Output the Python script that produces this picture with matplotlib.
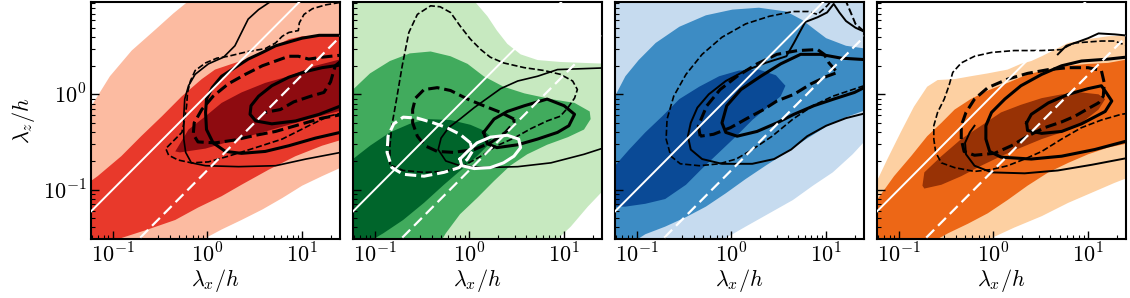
import matplotlib
matplotlib.use("Agg")
import matplotlib.pyplot as plt
import numpy as np

plt.rcParams["mathtext.fontset"] = "cm"
plt.rcParams["font.family"] = ["DejaVu Serif"]
plt.rcParams["axes.linewidth"] = 1.5

# all values are log10(lambda_x/h), log10(lambda_z/h)
XLIM = (-1.23, 1.40)
ZLIM = (-1.52, 0.97)
DASHED_RATIO = 0.16  # white dashed line lambda_z = 0.16 lambda_x
X_TICKS = [0.1, 1.0, 10.0]
X_TICK_LABELS = [r"$10^{-1}$", r"$10^{0}$", r"$10^{1}$"]
Z_TICKS = [0.1, 1.0]
Z_TICK_LABELS = [r"$10^{-1}$", r"$10^{0}$"]

# ---- panel 1 (red)
red_light = [(-1.30, -0.13), (-1.23, -0.13), (-1.03, 0.19), (-0.80, 0.46), (-0.55, 0.68), (-0.36, 0.85),
             (-0.20, 0.98), (-0.15, 1.07), (1.49, 1.07), (1.49, -0.75), (1.41, -0.77), (1.21, -0.86),
             (1.00, -0.96), (0.79, -1.09), (0.58, -1.21), (0.36, -1.32), (0.15, -1.42), (-0.02, -1.51),
             (-0.10, -1.56), (-1.30, -1.56)]
red_mid = [(-1.30, -0.96), (-1.23, -0.91), (-1.16, -0.86), (-0.91, -0.65), (-0.70, -0.44), (-0.48, -0.23),
           (-0.27, -0.02), (-0.06, 0.16), (0.08, 0.26), (0.29, 0.33), (0.51, 0.40), (0.72, 0.51), (0.86, 0.58),
           (1.00, 0.61), (1.49, 0.63), (1.49, -0.47), (1.41, -0.48), (1.21, -0.54), (0.93, -0.65), (0.65, -0.79),
           (0.36, -0.95), (0.15, -1.07), (-0.10, -1.19), (-0.34, -1.32), (-0.63, -1.42), (-0.91, -1.51),
           (-0.98, -1.56), (-1.30, -1.56)]
red_dark = [(-0.34, -0.60), (-0.20, -0.37), (-0.02, -0.23), (0.15, -0.09), (0.36, 0.02), (0.61, 0.12),
            (0.86, 0.19), (1.14, 0.30), (1.49, 0.39), (1.49, -0.15), (1.07, -0.26), (0.79, -0.34), (0.51, -0.42),
            (0.22, -0.50), (-0.02, -0.57), (-0.29, -0.61)]
red_thin_solid = [(0.70, 1.02), (0.66, 0.97), (0.54, 0.89), (0.43, 0.79), (0.36, 0.65), (0.29, 0.51), (0.17, 0.39),
                  (0.01, 0.32), (-0.13, 0.21), (-0.20, 0.09), (-0.24, -0.05), (-0.25, -0.23), (-0.25, -0.47),
                  (-0.23, -0.61), (-0.17, -0.72), (-0.02, -0.75), (0.33, -0.76), (0.72, -0.75), (1.04, -0.68),
                  (1.41, -0.61), (1.49, -0.60)]
red_thick_solid = [(1.49, 0.62), (1.18, 0.62), (1.00, 0.59), (0.86, 0.55), (0.72, 0.51), (0.58, 0.44), (0.43, 0.37),
                   (0.29, 0.28), (0.15, 0.19), (0.05, 0.07), (-0.01, -0.05), (-0.02, -0.19), (-0.01, -0.37),
                   (0.06, -0.51), (0.19, -0.60), (0.36, -0.62), (0.61, -0.60), (0.86, -0.54), (1.14, -0.46),
                   (1.49, -0.38)]
red_thick_inner = [(1.49, 0.32), (1.21, 0.28), (1.04, 0.24), (0.86, 0.18), (0.68, 0.09), (0.54, -0.02),
                   (0.46, -0.12), (0.45, -0.21), (0.51, -0.28), (0.68, -0.31), (0.93, -0.28), (1.18, -0.21),
                   (1.49, -0.09)]
red_thin_dash = [(1.49, 0.98), (1.25, 0.94), (1.11, 0.90), (1.02, 0.84), (0.97, 0.75), (0.96, 0.67), (0.86, 0.65),
                 (0.79, 0.61), (0.72, 0.54), (0.61, 0.48), (0.43, 0.45), (0.22, 0.40), (0.10, 0.38), (-0.02, 0.33),
                 (-0.13, 0.25), (-0.18, 0.14), (-0.21, 0.02), (-0.22, -0.12), (-0.24, -0.26), (-0.27, -0.40),
                 (-0.36, -0.49), (-0.44, -0.57), (-0.41, -0.64), (-0.31, -0.69), (-0.17, -0.72), (0.01, -0.71),
                 (0.22, -0.65), (0.51, -0.56), (0.79, -0.47), (1.07, -0.33), (1.28, -0.23), (1.49, -0.18)]
red_thick_dash = [(1.49, 0.42), (1.21, 0.39), (1.07, 0.37), (0.96, 0.40), (0.86, 0.40), (0.72, 0.35), (0.58, 0.30),
                  (0.40, 0.21), (0.22, 0.11), (0.06, -0.02), (-0.06, -0.16), (-0.14, -0.30), (-0.15, -0.42),
                  (-0.10, -0.50), (0.08, -0.51), (0.29, -0.48), (0.51, -0.43), (0.72, -0.39), (1.00, -0.31),
                  (1.21, -0.25), (1.49, -0.20)]
red_thick_dash_inner = [(1.41, 0.35), (1.35, 0.30), (1.30, 0.13), (1.23, 0.02), (1.09, -0.02), (0.91, -0.08),
                        (0.77, -0.16), (0.61, -0.19)]

# ---- panel 2 (green)
green_light = [(-1.30, 1.07), (0.05, 1.07), (0.06, 0.97), (0.19, 0.82), (0.29, 0.67), (0.40, 0.53), (0.54, 0.42),
               (0.72, 0.36), (0.96, 0.34), (1.21, 0.33), (1.49, 0.32), (1.49, -0.93), (1.25, -1.18), (1.07, -1.39),
               (0.89, -1.56), (-1.30, -1.56)]
green_mid = [(-1.30, 0.04), (-1.23, 0.05), (-1.05, 0.22), (-0.84, 0.35), (-0.63, 0.43), (-0.41, 0.45), (-0.20, 0.40),
             (-0.02, 0.32), (0.15, 0.19), (0.36, 0.08), (0.58, 0.01), (0.86, -0.05), (1.11, -0.09), (1.27, -0.18),
             (1.28, -0.26), (1.21, -0.37), (1.04, -0.45), (0.82, -0.53), (0.61, -0.63), (0.43, -0.75), (0.26, -0.91),
             (0.08, -1.09), (-0.10, -1.26), (-0.25, -1.46), (-0.31, -1.56), (-1.30, -1.56)]
green_dark = [(-1.30, -0.68), (-1.23, -0.68), (-1.05, -0.54), (-0.84, -0.40), (-0.63, -0.31), (-0.45, -0.26),
              (-0.20, -0.27), (0.01, -0.32), (0.15, -0.38), (0.24, -0.46), (0.19, -0.54), (0.08, -0.65),
              (-0.06, -0.77), (-0.27, -0.95), (-0.48, -1.14), (-0.70, -1.32), (-0.91, -1.46), (-1.08, -1.56),
              (-1.30, -1.56)]
green_thin_solid = [(1.49, 0.28), (1.21, 0.27), (0.93, 0.26), (0.72, 0.19), (0.51, 0.14), (0.33, 0.06), (0.19, -0.04),
                    (0.05, -0.14), (-0.10, -0.26), (-0.22, -0.35), (-0.30, -0.46), (-0.33, -0.58), (-0.25, -0.70),
                    (-0.10, -0.75), (0.15, -0.77), (0.51, -0.76), (0.86, -0.72), (1.21, -0.63), (1.49, -0.54)]
green_thick_solid = [(0.15, -0.40), (0.26, -0.26), (0.40, -0.18), (0.58, -0.12), (0.82, -0.05), (1.00, -0.12),
                     (1.11, -0.21), (1.05, -0.33), (0.93, -0.40), (0.72, -0.47), (0.51, -0.53), (0.29, -0.56),
                     (0.19, -0.52), (0.15, -0.40)]
green_thin_dash = [(-0.84, -0.74), (-0.84, -0.54), (-0.82, -0.33), (-0.77, -0.05), (-0.71, 0.30), (-0.64, 0.65),
                   (-0.55, 0.84), (-0.41, 0.93), (-0.31, 0.92), (-0.20, 0.86), (-0.10, 0.72), (0.01, 0.58),
                   (0.12, 0.47), (0.22, 0.39), (0.36, 0.33), (0.58, 0.28), (0.79, 0.25), (0.96, 0.21), (1.09, 0.14),
                   (1.14, 0.05), (1.11, -0.04), (1.04, -0.14), (0.96, -0.23), (0.82, -0.28), (0.65, -0.36),
                   (0.47, -0.46), (0.29, -0.54), (0.12, -0.65), (-0.06, -0.75), (-0.27, -0.81), (-0.48, -0.82),
                   (-0.70, -0.80), (-0.82, -0.75), (-0.84, -0.74)]
green_thick_dash = [(0.47, -0.26), (0.33, -0.19), (0.15, -0.12), (-0.02, -0.05), (-0.20, 0.04), (-0.34, 0.07),
                    (-0.48, 0.05), (-0.57, -0.04), (-0.60, -0.16), (-0.60, -0.30), (-0.55, -0.44), (-0.47, -0.54),
                    (-0.34, -0.60), (-0.17, -0.61), (0.05, -0.58), (0.22, -0.51), (0.38, -0.40), (0.47, -0.30),
                    (0.47, -0.26)]
green_white_dash = [(0.01, -0.51), (-0.10, -0.42), (-0.24, -0.35), (-0.38, -0.30), (-0.55, -0.25), (-0.70, -0.24),
                    (-0.80, -0.31), (-0.86, -0.44), (-0.87, -0.61), (-0.82, -0.77), (-0.70, -0.84), (-0.48, -0.86),
                    (-0.27, -0.82), (-0.11, -0.77), (-0.02, -0.68), (0.03, -0.60), (0.01, -0.51)]
green_white_solid = [(-0.10, -0.68), (-0.02, -0.60), (0.08, -0.51), (0.22, -0.45), (0.40, -0.43), (0.52, -0.47),
                     (0.54, -0.56), (0.47, -0.65), (0.36, -0.72), (0.22, -0.77), (0.05, -0.78), (-0.08, -0.75),
                     (-0.10, -0.68)]

# ---- panel 3 (blue)
blue_light = [(-1.30, 1.07), (1.49, 1.07), (1.49, -0.46), (1.41, -0.49), (1.28, -0.63), (1.07, -0.82), (0.86, -0.96),
              (0.65, -1.11), (0.40, -1.25), (0.15, -1.39), (-0.06, -1.51), (-0.13, -1.56), (-1.30, -1.56)]
blue_mid = [(-1.30, -0.05), (-1.23, -0.02), (-1.12, 0.19), (-0.98, 0.36), (-0.80, 0.54), (-0.55, 0.71), (-0.27, 0.83),
            (0.01, 0.89), (0.29, 0.91), (0.58, 0.87), (0.75, 0.78), (0.88, 0.68), (1.00, 0.59), (1.21, 0.51),
            (1.49, 0.47), (1.49, -0.14), (1.21, -0.24), (1.00, -0.34), (0.79, -0.47), (0.58, -0.61), (0.36, -0.75),
            (0.15, -0.89), (-0.06, -1.04), (-0.27, -1.18), (-0.48, -1.29), (-0.70, -1.39), (-0.91, -1.47),
            (-1.05, -1.56), (-1.30, -1.56)]
blue_dark = [(-1.30, -0.77), (-1.23, -0.75), (-1.08, -0.58), (-0.91, -0.40), (-0.73, -0.23), (-0.55, -0.05),
             (-0.34, 0.08), (-0.13, 0.19), (0.08, 0.25), (0.29, 0.26), (0.47, 0.20), (0.57, 0.09), (0.52, -0.02),
             (0.40, -0.12), (0.22, -0.27), (0.05, -0.44), (-0.13, -0.61), (-0.31, -0.78), (-0.48, -0.95),
             (-0.70, -1.10), (-0.91, -1.15), (-1.12, -1.18), (-1.30, -1.18)]
blue_thin_solid = [(1.49, -0.18), (1.21, -0.25), (1.00, -0.33), (0.80, -0.44), (0.63, -0.58), (0.45, -0.68),
                   (0.22, -0.73), (-0.10, -0.73), (-0.31, -0.68), (-0.43, -0.58), (-0.46, -0.44), (-0.43, -0.30),
                   (-0.36, -0.14), (-0.24, 0.0), (-0.06, 0.14), (0.15, 0.25), (0.36, 0.33), (0.58, 0.40),
                   (0.66, 0.54), (0.73, 0.67), (0.78, 0.76), (0.91, 0.81), (1.01, 0.86), (1.08, 0.95), (1.14, 0.86),
                   (1.21, 0.77), (1.31, 0.70), (1.42, 0.65), (1.49, 0.62)]
blue_thick_solid = [(1.49, 0.36), (1.16, 0.38), (0.94, 0.42), (0.73, 0.42), (0.52, 0.32), (0.31, 0.19), (0.10, 0.05),
                    (-0.05, -0.12), (-0.10, -0.30), (-0.06, -0.40), (0.06, -0.44), (0.27, -0.39), (0.48, -0.30),
                    (0.66, -0.21), (0.87, -0.12), (1.08, -0.05), (1.30, 0.02), (1.42, 0.08), (1.49, 0.12)]
blue_thin_dash = [(1.49, 0.12), (1.28, 0.05), (1.07, -0.02), (0.86, -0.12), (0.65, -0.26), (0.43, -0.44),
                  (0.22, -0.58), (0.05, -0.68), (-0.13, -0.73), (-0.34, -0.75), (-0.54, -0.73), (-0.64, -0.65),
                  (-0.69, -0.47), (-0.68, -0.26), (-0.61, -0.02), (-0.48, 0.21), (-0.31, 0.42), (-0.10, 0.60),
                  (0.15, 0.74), (0.40, 0.82), (0.65, 0.87), (0.81, 0.87), (0.91, 0.84), (1.01, 0.93), (1.07, 1.0),
                  (1.09, 1.04)]
blue_thin_dash_top = [(1.19, 1.04), (1.20, 1.0), (1.26, 0.86), (1.31, 0.74), (1.39, 0.67), (1.49, 0.61)]
blue_thick_dash = [(-0.33, -0.44), (-0.35, -0.33), (-0.26, -0.12), (-0.12, 0.05), (0.06, 0.19), (0.27, 0.32),
                   (0.48, 0.42), (0.70, 0.46), (0.91, 0.47), (0.98, 0.42), (1.03, 0.33), (1.10, 0.25), (1.12, 0.23),
                   (1.01, 0.19), (0.84, 0.11), (0.66, 0.0), (0.48, -0.07), (0.34, -0.16), (0.17, -0.25),
                   (-0.01, -0.35), (-0.19, -0.42), (-0.33, -0.44)]

# ---- panel 4 (orange)
orange_light = [(-1.30, -0.93), (-1.23, -0.91), (-1.12, -0.68), (-0.98, -0.40), (-0.84, -0.13), (-0.70, 0.08),
                (-0.59, 0.15), (-0.41, 0.16), (-0.24, 0.19), (-0.06, 0.22), (0.15, 0.26), (0.29, 0.32), (0.40, 0.35),
                (0.51, 0.40), (0.65, 0.47), (0.79, 0.54), (1.00, 0.58), (1.21, 0.61), (1.49, 0.62), (1.49, -0.86),
                (1.41, -0.88), (1.28, -0.93), (1.07, -1.02), (0.79, -1.14), (0.51, -1.28), (0.22, -1.40),
                (-0.02, -1.51), (-0.10, -1.56), (-1.30, -1.56)]
orange_mid = [(-1.30, -1.12), (-1.23, -1.11), (-1.05, -0.86), (-0.87, -0.65), (-0.70, -0.44), (-0.55, -0.30),
              (-0.41, -0.16), (-0.24, -0.05), (-0.06, 0.04), (0.15, 0.12), (0.36, 0.21), (0.58, 0.26), (0.79, 0.30),
              (1.00, 0.32), (1.21, 0.33), (1.49, 0.38), (1.49, -0.50), (1.21, -0.56), (1.00, -0.63), (0.79, -0.72),
              (0.58, -0.82), (0.36, -0.96), (0.15, -1.11), (-0.06, -1.25), (-0.27, -1.36), (-0.48, -1.46),
              (-0.66, -1.56), (-1.30, -1.56)]
orange_dark = [(-0.75, -0.96), (-0.73, -0.82), (-0.55, -0.65), (-0.34, -0.47), (-0.13, -0.33), (0.08, -0.19),
               (0.29, -0.11), (0.51, -0.04), (0.72, 0.0), (0.93, 0.02), (1.11, 0.0), (1.18, -0.05), (1.11, -0.16),
               (0.93, -0.30), (0.72, -0.40), (0.51, -0.47), (0.29, -0.56), (0.08, -0.65), (-0.13, -0.75),
               (-0.34, -0.86), (-0.55, -0.95), (-0.73, -0.99)]
orange_thin_solid_top = [(0.68, 0.42), (0.77, 0.51), (0.89, 0.55), (1.00, 0.59), (1.11, 0.64), (1.28, 0.63),
                         (1.49, 0.61)]
orange_thin_solid = [(-0.20, -0.33), (-0.25, -0.40), (-0.30, -0.51), (-0.29, -0.63), (-0.20, -0.75), (-0.02, -0.82),
                     (0.33, -0.83), (0.68, -0.80), (1.04, -0.74), (1.41, -0.67), (1.49, -0.66)]
orange_thick_solid = [(1.49, 0.40), (1.21, 0.37), (0.93, 0.35), (0.72, 0.30), (0.51, 0.21), (0.29, 0.09),
                      (0.12, -0.05), (-0.02, -0.19), (-0.08, -0.33), (-0.08, -0.47), (-0.04, -0.60), (0.08, -0.66),
                      (0.40, -0.68), (0.72, -0.65), (1.07, -0.58), (1.41, -0.49), (1.49, -0.47)]
orange_thick_inner = [(0.35, -0.30), (0.40, -0.21), (0.58, -0.09), (0.79, 0.0), (1.00, 0.06), (1.14, 0.09),
                      (1.19, 0.02), (1.25, -0.07), (1.18, -0.18), (0.93, -0.31), (0.72, -0.39), (0.51, -0.41),
                      (0.36, -0.38), (0.35, -0.30)]
orange_thin_dash = [(1.49, 0.49), (1.41, 0.51), (1.28, 0.56), (1.14, 0.56), (1.00, 0.55), (0.86, 0.54), (0.79, 0.51),
                    (0.72, 0.47), (0.51, 0.46), (0.22, 0.46), (-0.02, 0.44), (-0.20, 0.40), (-0.34, 0.33),
                    (-0.43, 0.23), (-0.47, 0.09), (-0.52, -0.05), (-0.59, -0.19), (-0.63, -0.33), (-0.63, -0.47),
                    (-0.61, -0.61), (-0.55, -0.72), (-0.41, -0.77), (-0.20, -0.81), (-0.02, -0.79), (0.15, -0.75),
                    (0.33, -0.68), (0.51, -0.60), (0.72, -0.47), (0.93, -0.35), (1.14, -0.27), (1.35, -0.21),
                    (1.49, -0.19)]
orange_thick_dash = [(-0.34, -0.47), (-0.34, -0.33), (-0.29, -0.19), (-0.20, -0.05), (-0.06, 0.07), (0.15, 0.16),
                     (0.36, 0.22), (0.58, 0.26), (0.79, 0.28), (1.00, 0.28), (1.14, 0.25), (1.17, 0.12), (1.16, -0.02),
                     (1.11, -0.09), (1.00, -0.15), (0.86, -0.23), (0.72, -0.29), (0.54, -0.35), (0.36, -0.44),
                     (0.19, -0.54), (0.01, -0.62), (-0.20, -0.64), (-0.31, -0.60), (-0.34, -0.47)]

FILL_COLORS = [
    ["#fcbba1", "#e8392b", "#8e0b10"],
    ["#c7e9c0", "#41ab5d", "#00652b"],
    ["#c6dbef", "#3d8cc4", "#0a4a96"],
    ["#fdd0a2", "#ed6716", "#983205"],
]

panels = [
    {"fills": [red_light, red_mid, red_dark],
     "lines": [(red_thin_solid, "k", 1.2, "-"), (red_thick_solid, "k", 2.2, "-"), (red_thick_inner, "k", 2.2, "-"),
               (red_thin_dash, "k", 1.2, "--"), (red_thick_dash, "k", 2.2, "--"),
               (red_thick_dash_inner, "k", 2.2, "--")]},
    {"fills": [green_light, green_mid, green_dark],
     "lines": [(green_thin_solid, "k", 1.2, "-"), (green_thick_solid, "k", 2.2, "-"),
               (green_thin_dash, "k", 1.2, "--"), (green_thick_dash, "k", 2.2, "--"),
               (green_white_dash, "w", 2.2, "--"), (green_white_solid, "w", 2.2, "-")]},
    {"fills": [blue_light, blue_mid, blue_dark],
     "lines": [(blue_thin_solid, "k", 1.4, "-"), (blue_thick_solid, "k", 2.2, "-"),
               (blue_thin_dash, "k", 1.2, "--"), (blue_thin_dash_top, "k", 1.4, "--"),
               (blue_thick_dash, "k", 2.2, "--")]},
    {"fills": [orange_light, orange_mid, orange_dark],
     "lines": [(orange_thin_solid_top, "k", 1.4, "-"), (orange_thin_solid, "k", 1.4, "-"),
               (orange_thick_solid, "k", 2.2, "-"), (orange_thick_inner, "k", 2.2, "-"),
               (orange_thin_dash, "k", 1.2, "--"), (orange_thick_dash, "k", 2.2, "--")]},
]

fig = plt.figure(figsize=(11.3, 2.98), dpi=100)
lefts = [91, 353, 615, 877]
xx = 10.0 ** np.array([XLIM[0] - 0.1, XLIM[1] + 0.1])

for i, panel in enumerate(panels):
    ax = fig.add_axes([lefts[i] / 1130, 59 / 298, 249 / 1130, 237 / 298])
    ax.set_xscale("log")
    ax.set_yscale("log")
    for pts, color in zip(panel["fills"], FILL_COLORS[i]):
        a = np.array(pts)
        ax.fill(10 ** a[:, 0], 10 ** a[:, 1], color=color, lw=0, zorder=1)
    for pts, color, lw, ls in panel["lines"]:
        a = np.array(pts)
        ax.plot(10 ** a[:, 0], 10 ** a[:, 1], color=color, lw=lw, ls=ls, zorder=3)
    ax.plot(xx, xx, color="w", lw=1.4, zorder=4)
    ax.plot(xx, DASHED_RATIO * xx, color="w", lw=1.6, ls=(0, (5, 2.5)), zorder=4)
    ax.set_xlim(10 ** XLIM[0], 10 ** XLIM[1])
    ax.set_ylim(10 ** ZLIM[0], 10 ** ZLIM[1])
    ax.set_xticks(X_TICKS)
    ax.set_xticklabels(X_TICK_LABELS)
    ax.set_yticks(Z_TICKS)
    ax.set_yticklabels(Z_TICK_LABELS if i == 0 else [])
    ax.tick_params(which="both", direction="in", top=False, right=False, labelsize=16)
    ax.tick_params(which="major", length=6, width=1.0, pad=3)
    ax.tick_params(which="minor", length=3, width=0.8)
    ax.set_xlabel(r"$\lambda_x/h$", fontsize=16, labelpad=0)
    if i == 0:
        ax.set_ylabel(r"$\lambda_z/h$", fontsize=16, labelpad=4)

fig.savefig("out.png", dpi=100)
